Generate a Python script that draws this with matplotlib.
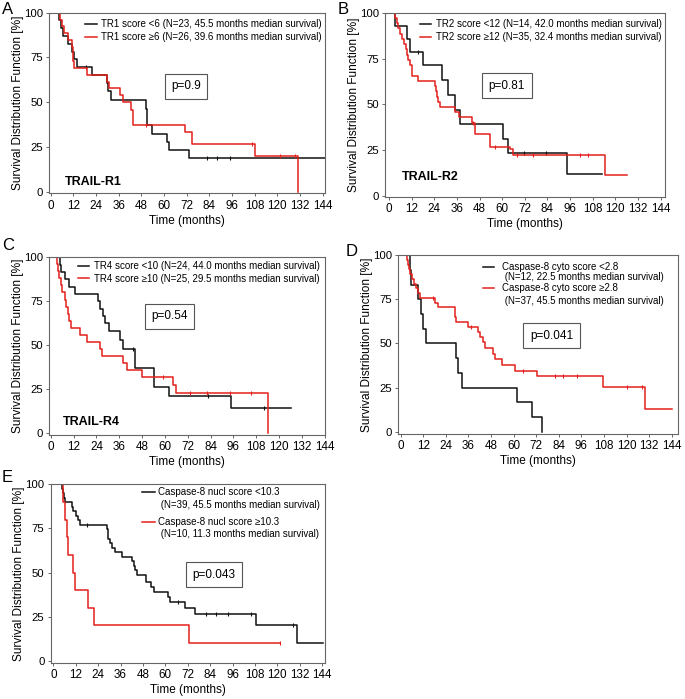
import numpy as np
import matplotlib
matplotlib.use("Agg")
import matplotlib.pyplot as plt
from matplotlib.lines import Line2D

plt.rcParams['font.family'] = ['Liberation Sans', 'DejaVu Sans']

BLACK = '#111111'
RED = '#e3201b'

# ---------------- data ----------------
xticks = [0, 12, 24, 36, 48, 60, 72, 84, 96, 108, 120, 132, 144]
yticks = [0, 25, 50, 75, 100]

# Panel A (TRAIL-R1)
A_lo_t = [0, 4.5, 5.5, 6.5, 9, 11, 12.5, 14, 22, 30, 30.5, 32, 50.3, 51, 53.5, 61.5, 62.5, 73, 145]
A_lo_s = [100, 95.7, 91.3, 87.0, 82.6, 78.3, 73.9, 69.6, 65.2, 60.9, 56.5, 51.5, 46.4, 37.1, 32.5, 27.9, 23.2, 18.6, 18.6]
A_lo_c = [18.7, 82.5, 88, 95]
A_hi_t = [0, 5, 6, 7, 9, 11, 12, 12.5, 19, 29.5, 31, 36.5, 38, 42.5, 43.5, 71, 75, 108, 131]
A_hi_s = [100, 96.2, 92.3, 88.5, 84.6, 80.8, 73.1, 69.2, 65.4, 61.5, 57.7, 53.8, 50, 45.8, 37.5, 33.5, 26.8, 20.1, 0]
A_hi_c = [50.3, 106.8, 121.4, 129.3]
A_lab = ["TR1 score <6 (N=23, 45.5 months median survival)",
         "TR1 score \u22656 (N=26, 39.6 months median survival)"]

# Panel B (TRAIL-R2)
B_lo_t = [0, 3.4, 9.4, 11.3, 18.0, 28.3, 31.5, 35, 37.6, 60.6, 63.2, 94.2, 112.7]
B_lo_s = [100, 92.9, 85.7, 78.6, 71.4, 63.5, 55.0, 47.1, 39.3, 31.4, 23.6, 11.8, 11.8]
B_lo_c = [15.5, 71.5, 83]
B_hi_t = [0, 3, 4, 5, 6, 7, 8, 9, 9.5, 10, 11, 12, 15.5, 24.4, 25, 25.5, 26, 27, 35, 37,
          43.8, 45.6, 53.5, 64, 66, 114.5, 126.3]
B_hi_s = [100, 97.1, 94.3, 91.4, 88.6, 85.7, 82.9, 80, 77.1, 74.3, 71.4, 65.7, 62.9, 60, 57.1,
          54.3, 51.4, 48.6, 45.7, 42.9, 40, 33.6, 27, 25.7, 22.5, 11.3, 11.3]
B_hi_c = [44.5, 56.2, 67.7, 76.5, 101, 105.7]
B_lab = ["TR2 score <12 (N=14, 42.0 months median survival)",
         "TR2 score \u226512 (N=35, 32.4 months median survival)"]

# Panel C (TRAIL-R4)
C_lo_t = [0, 5, 5.5, 7.5, 9.5, 12.7, 25, 26, 27.5, 28.3, 30.5, 36.4, 38, 44.3, 54.2, 62.3, 94.5, 126.5]
C_lo_s = [100, 95.8, 91.7, 87.5, 83.3, 79.2, 75, 70.8, 66.7, 62.5, 58.3, 53, 47.9, 37.3, 26.5, 21.2, 14.2, 14.2]
C_lo_c = [43.4, 82.8, 112]
C_hi_t = [0, 3.1, 3.8, 4.3, 5.2, 5.8, 7.5, 8.2, 9, 9.8, 10.5, 15.4, 18.9, 25.9, 26.8, 38.1, 39.9,
          47.8, 64.4, 66, 114.3]
C_hi_s = [100, 96, 92, 88, 84, 80, 76, 72, 68, 64, 60, 56, 52, 48, 44, 40, 36, 32, 27.6, 23, 0]
C_hi_c = [59, 73, 82, 94, 105.5]
C_lab = ["TR4 score <10 (N=24, 44.0 months median survival)",
         "TR4 score \u226510 (N=25, 29.5 months median survival)"]

# Panel D (Caspase-8 cyto)
D_lo_t = [0, 5, 5.5, 9.4, 10.8, 11.7, 13.5, 29.4, 30.6, 32.8, 61.6, 69.6, 74.9]
D_lo_s = [100, 91.7, 83.3, 75, 66.7, 58.3, 50, 41.7, 33.3, 25, 16.7, 8.3, 0]
D_lo_c = []
D_hi_t = [0, 3.5, 4, 4.5, 5, 6, 7, 8, 9.4, 10.3, 18.2, 20, 28.9, 29.5, 36, 41, 42.2, 43.6, 44.8,
          49.2, 50, 53.7, 60.8, 72.3, 107.7, 129.8, 144]
D_hi_s = [100, 97.3, 94.6, 91.9, 89.2, 86.5, 83.8, 81.1, 78.4, 75.7, 73, 70.3, 64.8, 61.9, 59.2,
          56.5, 53.5, 50.5, 47.3, 44, 41, 37.8, 34.6, 31.4, 25.1, 12.6, 12.6]
D_hi_c = [17.4, 37.2, 65.2, 82, 86.4, 93.5, 120, 128]
D_lab = [("Caspase-8 cyto score <2.8", " (N=12, 22.5 months median survival)"),
         ("Caspase-8 cyto score \u22652.8", " (N=37, 45.5 months median survival)")]

# Panel E (Caspase-8 nucl)
E_lo_t = [0, 4.5, 5, 5.5, 6.3, 9.8, 10.7, 12, 13, 14.3, 28.9, 29.5, 30.3, 31.5, 33, 37, 41.9,
          43, 44, 44.6, 49.9, 52.5, 53.8, 61.5, 62.7, 70.4, 75.7, 108.4, 130.6, 144.5]
E_lo_s = [100, 97.4, 94.9, 92.3, 89.7, 87.2, 84.6, 82, 79.5, 77, 74.4, 69.2, 66.7, 64.1, 61.5,
          59, 56.4, 53.8, 51.3, 48.7, 44.4, 41.9, 38.8, 35.9, 33.3, 30.1, 26.7, 20, 10, 10]
E_lo_c = [18, 66.8, 82, 87.3, 93.6, 106, 128.3]
E_hi_t = [0, 5.4, 6.3, 7.2, 8, 10.3, 11.6, 18.7, 21.7, 72.7, 121.5]
E_hi_s = [100, 90, 80, 70, 60, 50, 40, 30, 20, 10, 10]
E_hi_c = [121.5]
E_lab = [("Caspase-8 nucl score <10.3", " (N=39, 45.5 months median survival)"),
         ("Caspase-8 nucl score \u226510.3", " (N=10, 11.3 months median survival)")]

W, H = 685, 699
fig = plt.figure(figsize=(W / 100, H / 100), dpi=100)


def fx(x):
    return x / W


def fy(y):
    return 1 - y / H


def make_ax(left, right, top, bottom):
    return fig.add_axes([fx(left), fy(bottom), (right - left) / W, (bottom - top) / H])


def surv_at(ts, ss, c):
    i = np.searchsorted(np.asarray(ts), c, side='right') - 1
    return np.asarray(ss)[i]


def draw(ax, curves, labels, xlim, ylim, pval, pxy, name=None, nxy=None, leg=None):
    handles = []
    for (t, s, c), col in zip(curves, [BLACK, RED]):
        h, = ax.step(t, s, where='post', color=col, lw=1.1)
        handles.append(h)
        if len(c):
            cy = [surv_at(t, s, ci) for ci in c]
            ax.plot(c, cy, linestyle='none', marker='|', color=col, ms=3.5, mew=0.8)
    ax.set_xlim(*xlim)
    ax.set_ylim(*ylim)
    ax.set_xticks(xticks)
    ax.set_yticks(yticks)
    ax.tick_params(direction='out', length=2.5, width=0.7, color='#666666', pad=2)
    ax.tick_params(axis='x', labelsize=8.4)
    ax.tick_params(axis='y', labelsize=8.2)
    for sp in ax.spines.values():
        sp.set_color('#666666')
        sp.set_linewidth(0.8)
    ax.set_xlabel('Time (months)', fontsize=8.5, labelpad=2)
    ax.set_ylabel('Survival Distribution Function [%]', fontsize=8.6, labelpad=0)
    if leg is not None and leg[0] == 'single':
        _, right, top = leg
        ax.legend(handles, labels, loc='upper right', bbox_to_anchor=(fx(right), fy(top)),
                  bbox_transform=fig.transFigure, frameon=False, fontsize=7,
                  handlelength=1.15, handletextpad=0.5, borderaxespad=0, borderpad=0,
                  labelspacing=0.29)
    elif leg is not None:
        _, hx0, hx1, tx, rows = leg
        for (l1, l2), col, (y1, y2) in zip(labels, [BLACK, RED], rows):
            ax.add_line(Line2D([fx(hx0), fx(hx1)], [fy(y1), fy(y1)], color=col, lw=1.1,
                               transform=fig.transFigure))
            ax.text(fx(tx), fy(y1), l1, fontsize=7, ha='left', va='center',
                    transform=fig.transFigure)
            ax.text(fx(tx), fy(y2), l2, fontsize=7, ha='left', va='center',
                    transform=fig.transFigure)
    ax.text(pxy[0], pxy[1], pval, fontsize=8.5, ha='center', va='center',
            bbox=dict(boxstyle='square,pad=0.55', fc='white', ec='#555555', lw=0.8))
    if name:
        ax.text(nxy[0], nxy[1], name, fontsize=9, fontweight='bold', ha='left', va='center')


axA = make_ax(49.3, 325, 12.7, 193.5)
draw(axA, [(A_lo_t, A_lo_s, A_lo_c), (A_hi_t, A_hi_s, A_hi_c)], A_lab,
     (-0.8, 145.2), (-1, 100), 'p=0.9', (71.6, 59), 'TRAIL-R1', (7.6, 5.5),
     leg=('single', 322, 19.4))

axB = make_ax(385, 665, 12.7, 197)
draw(axB, [(B_lo_t, B_lo_s, B_lo_c), (B_hi_t, B_hi_s, B_hi_c)], B_lab,
     (-2.1, 146.3), (-0.5, 100), 'p=0.81', (62.5, 60.3), 'TRAIL-R2', (6.7, 10.5),
     leg=('single', 661.7, 19.4))

axC = make_ax(49.3, 325, 257.3, 435)
draw(axC, [(C_lo_t, C_lo_s, C_lo_c), (C_hi_t, C_hi_s, C_hi_c)], C_lab,
     (-0.8, 144.2), (-1, 100), 'p=0.54', (62.5, 66.4), 'TRAIL-R4', (6.6, 6.6),
     leg=('single', 320, 261))

axD = make_ax(398, 678, 255, 433.5)
draw(axD, [(D_lo_t, D_lo_s, D_lo_c), (D_hi_t, D_hi_s, D_hi_c)], D_lab,
     (-1.4, 147.3), (-1, 100), 'p=0.041', (80.1, 54.2),
     leg=('multi', 483, 494, 502, [(267, 277.5), (288, 300.5)]))

axE = make_ax(50.7, 325, 484.3, 662.5)
draw(axE, [(E_lo_t, E_lo_s, E_lo_c), (E_hi_t, E_hi_s, E_hi_c)], E_lab,
     (-1.4, 145.5), (-1, 100), 'p=0.043', (86, 48.6),
     leg=('multi', 142, 155, 158, [(492, 504.5), (522, 534)]))

for letter, x, y in [('A', 2, 9), ('B', 338, 10), ('C', 2, 246), ('D', 346, 252), ('E', 2, 478)]:
    fig.text(fx(x), fy(y), letter, fontsize=12, ha='left', va='center')

fig.savefig('out.png', dpi=100)
